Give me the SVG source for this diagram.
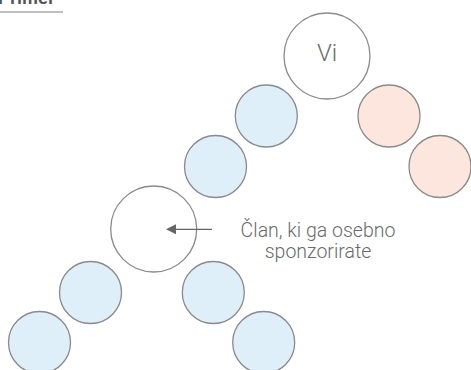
<svg xmlns="http://www.w3.org/2000/svg" width="471" height="370" viewBox="0 0 471 370">
<defs>
<style>
.c{stroke:#8a8a8a;stroke-width:1.3}
.w{fill:#ffffff}
.b{fill:#dfeffa}
.p{fill:#fde6dd}
.t{font-family:Roboto,"Liberation Sans",sans-serif;font-weight:300;fill:#6a6a6a}
</style>
<marker id="ah" viewBox="0 0 10 10" refX="0" refY="5" markerWidth="10" markerHeight="10" markerUnits="userSpaceOnUse" orient="auto-start-reverse">
<path d="M0,0 L10,5 L0,10 z" fill="#666"/>
</marker>
</defs>
<rect width="471" height="370" fill="#fff"/>
<g id="title">
<text x="-2" y="4" font-family="'Liberation Sans',Arial,sans-serif" font-weight="bold" font-size="18" fill="#555">Primer</text>
<line x1="0" y1="12" x2="63" y2="12" stroke="#aaa" stroke-width="1.5"/>
</g>
<g id="vi"><circle class="c w" cx="327" cy="56" r="43"/><text class="t" x="327" y="61" font-size="24" text-anchor="middle">Vi</text></g>
<g id="pink1"><circle class="c p" cx="389" cy="116" r="31"/></g>
<g id="pink2"><circle class="c p" cx="440" cy="166.5" r="31"/></g>
<g id="blue1"><circle class="c b" cx="266.3" cy="116" r="31"/></g>
<g id="blue2"><circle class="c b" cx="215.5" cy="166.5" r="31"/></g>
<g id="member"><circle class="c w" cx="153.7" cy="229" r="43"/></g>
<g id="label"><text class="t" font-size="19.5" text-anchor="middle"><tspan x="318" y="237">Član, ki ga osebno</tspan><tspan x="318" y="258">sponzorirate</tspan></text></g>
<g id="blue3"><circle class="c b" cx="90.5" cy="292.5" r="31"/></g>
<g id="blue4"><circle class="c b" cx="213.3" cy="292.5" r="31"/></g>
<g id="blue5"><circle class="c b" cx="39.5" cy="342.5" r="31"/></g>
<g id="blue6"><circle class="c b" cx="263.7" cy="342.5" r="31"/></g>
<g id="connectors">
<line x1="212" y1="229.3" x2="176" y2="229.3" stroke="#666" stroke-width="1.3" marker-end="url(#ah)"/>
</g>
</svg>
